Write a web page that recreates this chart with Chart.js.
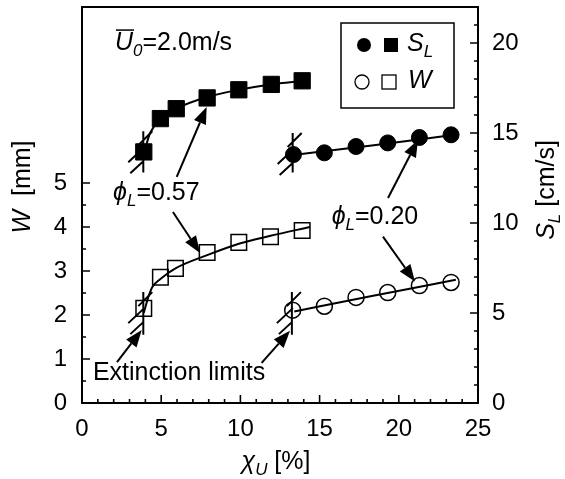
<!DOCTYPE html>
<html>
<head>
<meta charset="utf-8">
<script src="https://cdn.jsdelivr.net/npm/chart.js@4.4.1/dist/chart.umd.min.js"></script>
<style>
  html, body { margin: 0; padding: 0; background: #fff; }
  #wrap { width: 565px; height: 479px; }
</style>
</head>
<body>
<div id="wrap"><canvas id="chart" width="565" height="479"></canvas></div>
<script>
// Valeurs
const xTickValues = [0, 5, 10, 15, 20, 25];
const wTickValues = [0, 1, 2, 3, 4, 5];
const slTickValues = [0, 5, 10, 15, 20];

// S_L (axe droit), phi_L = 0.57 (carrés pleins) et 0.20 (cercles pleins)
const slSquareX = [3.9, 4.95, 5.95, 7.9, 9.9, 11.95, 13.9];
const slSquareY = [13.95, 15.8, 16.35, 16.95, 17.4, 17.7, 17.9];
const slCircleX = [13.35, 15.3, 17.3, 19.3, 21.3, 23.3];
const slCircleY = [13.8, 13.9, 14.25, 14.45, 14.75, 14.9];

// W (axe gauche)
const wSquareX = [3.9, 4.95, 5.9, 7.9, 9.9, 11.9, 13.9];
const wSquareY = [2.15, 2.86, 3.06, 3.42, 3.65, 3.78, 3.92];
const wCircleX = [13.3, 15.3, 17.3, 19.3, 21.3, 23.3];
const wCircleY = [2.11, 2.2, 2.4, 2.51, 2.67, 2.74];

// Courbes d'ajustement (tracées à la main sur la figure)
const slFitSqX = [3.95, 4.3, 4.95, 5.95, 7.9, 9.9, 11.9, 14.0];
const slFitSqY = [14.0, 15.0, 15.75, 16.35, 17.0, 17.4, 17.7, 17.9];
const slFitCiX = [13.35, 18.3, 23.3];
const slFitCiY = [13.78, 14.3, 14.87];
const wFitSqX = [3.9, 4.2, 4.45, 4.95, 5.9, 7.9, 9.9, 11.9, 14.4];
const wFitSqY = [2.05, 2.42, 2.64, 2.82, 3.06, 3.36, 3.62, 3.8, 4.0];
const wFitCiX = [13.4, 18.3, 23.6];
const wFitCiY = [2.08, 2.43, 2.8];

// Limites d'extinction : [x, axe, bas, haut]
const extinctionMarks = [
    [3.87, 'ySL', 12.8, 15.1],
    [13.3, 'ySL', 12.8, 15.0],
    [3.87, 'yW', 1.55, 2.52],
    [13.25, 'yW', 1.55, 2.52]
];

// Flèches : [x0, w0, x1, w1] en unités (x, W)
const arrows = [
    [2.21, 0.93, 3.77, 1.66],
    [11.34, 0.91, 13.13, 1.64],
    [5.74, 4.34, 7.45, 3.41],
    [5.98, 5.14, 7.87, 6.73],
    [19.0, 3.78, 21.02, 2.76],
    [19.32, 4.66, 21.21, 5.98]
];

const FONT = '"Liberation Sans", Arial, sans-serif';
const TXT = 25;

function toPoints(xs, ys) {
    return xs.map((x, i) => ({ x: x, y: ys[i] }));
}

/**
 * Dessine un texte mixte (italique, indice, surligné)
 */
function drawRich(ctx, parts, x, y, size, align) {
    const widths = parts.map(p => {
        ctx.font = (p.i ? 'italic ' : '') + (p.sub ? size * 0.68 : size) + 'px ' + FONT;
        return ctx.measureText(p.t).width;
    });
    const total = widths.reduce((a, b) => a + b, 0);
    let cx = align === 'center' ? x - total / 2 : x;
    ctx.textAlign = 'left';
    ctx.textBaseline = 'middle';
    parts.forEach((p, k) => {
        const fs = p.sub ? size * 0.68 : size;
        ctx.font = (p.i ? 'italic ' : '') + fs + 'px ' + FONT;
        ctx.fillText(p.t, cx, y + (p.sub ? size * 0.33 : 0));
        if (p.over) {
            ctx.lineWidth = 1.5;
            ctx.beginPath();
            ctx.moveTo(cx + 1, y - size * 0.52);
            ctx.lineTo(cx + widths[k] + 1, y - size * 0.52);
            ctx.stroke();
        }
        cx += widths[k];
    });
}

function drawArrow(ctx, x0, y0, x1, y1) {
    const ang = Math.atan2(y1 - y0, x1 - x0);
    const hl = 17, hw = 6.5;
    const bx = x1 - hl * Math.cos(ang), by = y1 - hl * Math.sin(ang);
    ctx.lineWidth = 2;
    ctx.beginPath();
    ctx.moveTo(x0, y0);
    ctx.lineTo(bx, by);
    ctx.stroke();
    ctx.beginPath();
    ctx.moveTo(x1, y1);
    ctx.lineTo(bx + hw * Math.sin(ang), by - hw * Math.cos(ang));
    ctx.lineTo(bx - hw * Math.sin(ang), by + hw * Math.cos(ang));
    ctx.closePath();
    ctx.fill();
}

const decorPlugin = {
    id: 'decor',
    afterDraw(chart) {
        const { ctx, chartArea: a, scales } = chart;
        const sx = scales.x, sw = scales.yW, ss = scales.ySL;
        ctx.save();
        ctx.strokeStyle = '#000';
        ctx.fillStyle = '#000';

        // Cadre
        ctx.lineWidth = 2;
        ctx.strokeRect(a.left, a.top, a.right - a.left, a.bottom - a.top);

        // Graduations vers l'intérieur
        ctx.lineWidth = 1.6;
        ctx.beginPath();
        for (let v = 0; v <= 25; v++) {
            const px = sx.getPixelForValue(v);
            const len = v % 5 === 0 ? 8 : 4;
            ctx.moveTo(px, a.bottom);
            ctx.lineTo(px, a.bottom - len);
        }
        for (let v = 0; v <= 5; v += 0.5) {
            const py = sw.getPixelForValue(v);
            const len = v % 1 === 0 ? 8 : 4;
            ctx.moveTo(a.left, py);
            ctx.lineTo(a.left + len, py);
        }
        for (let v = 0; v <= 22; v++) {
            const py = ss.getPixelForValue(v);
            const len = v % 5 === 0 ? 8 : 4;
            ctx.moveTo(a.right, py);
            ctx.lineTo(a.right - len, py);
        }
        ctx.stroke();

        // Limites d'extinction (trait vertical hachuré)
        ctx.lineWidth = 2;
        extinctionMarks.forEach(m => {
            const sc = scales[m[1]];
            const px = sx.getPixelForValue(m[0]);
            const top = sc.getPixelForValue(m[3]);
            const bot = sc.getPixelForValue(m[2]);
            ctx.beginPath();
            ctx.moveTo(px, top);
            ctx.lineTo(px, bot);
            ctx.moveTo(px - 5, top + 14);
            ctx.lineTo(px + 9, top);
            ctx.moveTo(px - 15, top + 31);
            ctx.lineTo(px + 1, top + 16);
            ctx.moveTo(px - 13, top + 42);
            ctx.lineTo(px, top + 30);
            ctx.stroke();
        });

        // Flèches
        arrows.forEach(r => {
            drawArrow(ctx, sx.getPixelForValue(r[0]), sw.getPixelForValue(r[1]),
                sx.getPixelForValue(r[2]), sw.getPixelForValue(r[3]));
        });

        // Textes
        drawRich(ctx, [{ t: 'U', i: true, over: true }, { t: '0', i: true, sub: true }, { t: '=2.0m/s' }],
            sx.getPixelForValue(2.08), sw.getPixelForValue(8.18), TXT, 'left');
        drawRich(ctx, [{ t: 'ϕ', i: true }, { t: 'L', i: true, sub: true }, { t: '=0.57' }],
            sx.getPixelForValue(1.96), sw.getPixelForValue(4.77), TXT, 'left');
        drawRich(ctx, [{ t: 'ϕ', i: true }, { t: 'L', i: true, sub: true }, { t: '=0.20' }],
            sx.getPixelForValue(15.76), sw.getPixelForValue(4.23), TXT, 'left');
        drawRich(ctx, [{ t: 'Extinction limits' }],
            sx.getPixelForValue(0.69), sw.getPixelForValue(0.68), TXT, 'left');

        // Légende
        const lx = a.right - 137, ly = a.top + 16;
        ctx.lineWidth = 1.5;
        ctx.strokeRect(lx, ly, 113, 85);
        ctx.beginPath();
        ctx.arc(lx + 23, ly + 22, 7, 0, Math.PI * 2);
        ctx.fill();
        ctx.fillRect(lx + 43, ly + 15, 14, 14);
        drawRich(ctx, [{ t: 'S', i: true }, { t: 'L', i: true, sub: true }], lx + 66, ly + 21, TXT, 'left');
        ctx.lineWidth = 1.3;
        ctx.beginPath();
        ctx.arc(lx + 21, ly + 59, 7, 0, Math.PI * 2);
        ctx.stroke();
        ctx.strokeRect(lx + 41, ly + 52, 14, 14);
        drawRich(ctx, [{ t: 'W', i: true }], lx + 67, ly + 58, TXT, 'left');

        // Titres d'axes
        drawRich(ctx, [{ t: 'χ', i: true }, { t: 'U', i: true, sub: true }, { t: ' [%]' }],
            (a.left + a.right) / 2 - 4, 462, TXT, 'center');
        ctx.save();
        ctx.translate(23, 187);
        ctx.rotate(-Math.PI / 2);
        drawRich(ctx, [{ t: 'W', i: true }, { t: '  [mm]' }], 0, 0, TXT, 'center');
        ctx.restore();
        ctx.save();
        ctx.translate(547, 190);
        ctx.rotate(-Math.PI / 2);
        drawRich(ctx, [{ t: 'S', i: true }, { t: 'L', i: true, sub: true }, { t: ' [cm/s]' }], 0, 0, TXT, 'center');
        ctx.restore();

        ctx.restore();
    }
};

const tickFont = { family: FONT, size: 24 };
const black = '#000';

// Neutralise les marges automatiques de Chart.js pour caler la zone de tracé
function fixScale(size, key) {
    return s => {
        s[key] = size;
        s.paddingTop = 0;
        s.paddingBottom = 0;
        s.paddingLeft = 0;
        s.paddingRight = 0;
    };
}

new Chart(document.getElementById('chart').getContext('2d'), {
    type: 'scatter',
    data: {
        datasets: [
            { data: toPoints(slFitSqX, slFitSqY), yAxisID: 'ySL', showLine: true, pointRadius: 0, borderColor: black, borderWidth: 2, cubicInterpolationMode: 'monotone' },
            { data: toPoints(slFitCiX, slFitCiY), yAxisID: 'ySL', showLine: true, pointRadius: 0, borderColor: black, borderWidth: 2, cubicInterpolationMode: 'monotone' },
            { data: toPoints(wFitSqX, wFitSqY), yAxisID: 'yW', showLine: true, pointRadius: 0, borderColor: black, borderWidth: 2, cubicInterpolationMode: 'monotone' },
            { data: toPoints(wFitCiX, wFitCiY), yAxisID: 'yW', showLine: true, pointRadius: 0, borderColor: black, borderWidth: 2, cubicInterpolationMode: 'monotone' },
            { data: toPoints(slSquareX, slSquareY), yAxisID: 'ySL', pointStyle: 'rect', pointRadius: 11.5, backgroundColor: black, borderColor: black, borderWidth: 1 },
            { data: toPoints(slCircleX, slCircleY), yAxisID: 'ySL', pointStyle: 'circle', pointRadius: 8, backgroundColor: black, borderColor: black, borderWidth: 1 },
            { data: toPoints(wSquareX, wSquareY), yAxisID: 'yW', pointStyle: 'rect', pointRadius: 11, backgroundColor: 'rgba(0,0,0,0)', borderColor: black, borderWidth: 1.5 },
            { data: toPoints(wCircleX, wCircleY), yAxisID: 'yW', pointStyle: 'circle', pointRadius: 8, backgroundColor: 'rgba(0,0,0,0)', borderColor: black, borderWidth: 1.5 }
        ]
    },
    options: {
        responsive: false,
        animation: false,
        layout: { autoPadding: false, padding: { top: 7, left: 0, right: 0, bottom: 0 } },
        plugins: {
            legend: { display: false },
            tooltip: { enabled: false }
        },
        scales: {
            x: {
                type: 'linear',
                position: 'bottom',
                min: 0,
                max: 25,
                grid: { display: false, drawTicks: false },
                border: { display: false },
                afterBuildTicks: s => { s.ticks = xTickValues.map(v => ({ value: v })); },
                afterFit: fixScale(76, 'height'),
                ticks: { font: tickFont, color: black, padding: 12, maxRotation: 0 }
            },
            yW: {
                type: 'linear',
                position: 'left',
                min: 0,
                max: 9,
                grid: { display: false, drawTicks: false },
                border: { display: false },
                afterBuildTicks: s => { s.ticks = wTickValues.map(v => ({ value: v })); },
                afterFit: fixScale(82, 'width'),
                ticks: { font: tickFont, color: black, padding: 15 }
            },
            ySL: {
                type: 'linear',
                position: 'right',
                min: 0,
                max: 22,
                grid: { display: false, drawTicks: false },
                border: { display: false },
                afterBuildTicks: s => { s.ticks = slTickValues.map(v => ({ value: v })); },
                afterFit: fixScale(87, 'width'),
                ticks: { font: tickFont, color: black, padding: 14 }
            }
        }
    },
    plugins: [decorPlugin]
});
</script>
</body>
</html>
